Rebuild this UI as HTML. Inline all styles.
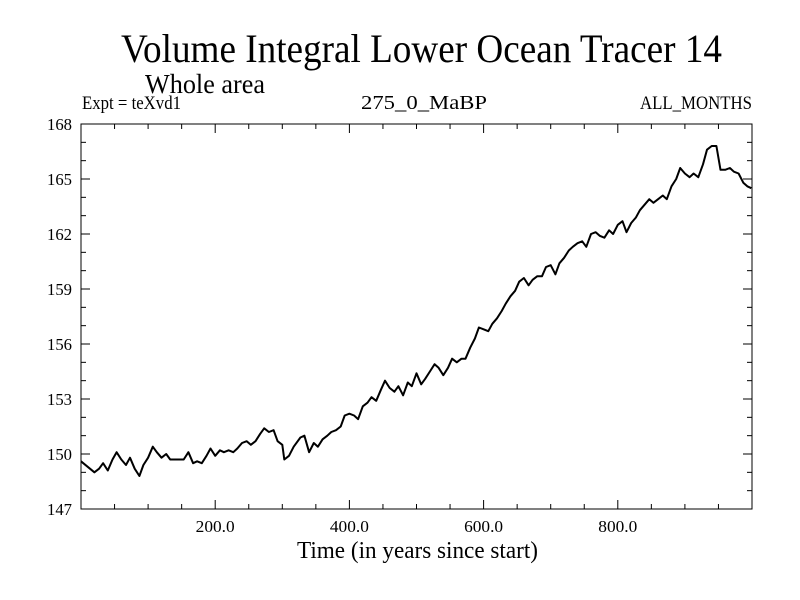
<!DOCTYPE html>
<html><head><meta charset="utf-8"><style>
body{margin:0;background:#fff;}
svg{display:block;font-family:"Liberation Serif",serif;}
</style></head><body>
<svg id="chart" width="800" height="600" xmlns="http://www.w3.org/2000/svg">
<rect width="800" height="600" fill="#fff"/>
<text x="121" y="62" font-size="40" textLength="601" lengthAdjust="spacingAndGlyphs">Volume Integral Lower Ocean Tracer 14</text>
<text x="145" y="93" font-size="27" textLength="120" lengthAdjust="spacingAndGlyphs">Whole area</text>
<text x="82" y="109" font-size="19" textLength="99" lengthAdjust="spacingAndGlyphs">Expt = teXvd1</text>
<text x="361" y="109" font-size="20" textLength="126" lengthAdjust="spacingAndGlyphs">275_0_MaBP</text>
<text x="640" y="109" font-size="19" textLength="112" lengthAdjust="spacingAndGlyphs">ALL_MONTHS</text>
<text x="297" y="558" font-size="24" textLength="241" lengthAdjust="spacingAndGlyphs">Time (in years since start)</text>
<g id="axes"></g>
<path id="line" fill="none" stroke="#000" stroke-width="2" stroke-linejoin="round"/>
<rect x="81" y="124" width="671" height="385" fill="none" stroke="#000" stroke-width="1"/>
</svg>
<script>
const years=[0,10,20,27,33,40,47,53,60,67,73,80,87,93,100,107,113,120,127,133,140,147,153,160,167,173,180,187,193,200,207,213,220,227,233,240,247,253,260,267,273,280,287,293,300,303,310,317,327,333,340,347,353,360,367,373,380,387,393,400,407,413,420,427,433,440,447,453,460,467,473,480,487,493,500,507,513,520,527,533,540,547,553,560,567,573,580,587,593,600,607,613,620,627,633,640,647,653,660,667,673,680,687,693,700,707,713,720,727,733,740,747,753,760,767,773,780,787,793,800,807,813,820,827,833,840,847,853,860,867,873,880,887,893,900,907,913,920,927,933,940,947,953,960,967,973,980,987,993,999];
const values=[149.6,149.3,149.0,149.2,149.5,149.1,149.7,150.1,149.7,149.4,149.8,149.2,148.8,149.4,149.8,150.4,150.1,149.8,150.0,149.7,149.7,149.7,149.7,150.1,149.5,149.6,149.5,149.9,150.3,149.9,150.2,150.1,150.2,150.1,150.3,150.6,150.7,150.5,150.7,151.1,151.4,151.2,151.3,150.7,150.5,149.7,149.9,150.4,150.9,151.0,150.1,150.6,150.4,150.8,151.0,151.2,151.3,151.5,152.1,152.2,152.1,151.9,152.6,152.8,153.1,152.9,153.5,154.0,153.6,153.4,153.7,153.2,153.9,153.7,154.4,153.8,154.1,154.5,154.9,154.7,154.3,154.7,155.2,155.0,155.2,155.2,155.8,156.3,156.9,156.8,156.7,157.1,157.4,157.8,158.2,158.6,158.9,159.4,159.6,159.2,159.5,159.7,159.7,160.2,160.3,159.8,160.4,160.7,161.1,161.3,161.5,161.6,161.3,162.0,162.1,161.9,161.8,162.2,162.0,162.5,162.7,162.1,162.6,162.9,163.3,163.6,163.9,163.7,163.9,164.1,163.9,164.6,165.0,165.6,165.3,165.1,165.3,165.1,165.8,166.6,166.8,166.8,165.5,165.5,165.6,165.4,165.3,164.8,164.6,164.5];
const yTicks=[147,150,153,156,159,162,165,168];
const xTicks=[200,400,600,800];
const xTickLabels=["200.0","400.0","600.0","800.0"];
const X0=81,X1=752,Y0=509,Y1=124,XMIN=0,XMAX=1000,YMIN=147,YMAX=168;
const sx=v=>X0+(v-XMIN)/(XMAX-XMIN)*(X1-X0);
const sy=v=>Y0-(v-YMIN)/(YMAX-YMIN)*(Y0-Y1);
const NS="http://www.w3.org/2000/svg";
const g=document.getElementById('axes');
function ln(x1,y1,x2,y2,name){const l=document.createElementNS(NS,'line');l.setAttribute('x1',x1);l.setAttribute('y1',y1);l.setAttribute('x2',x2);l.setAttribute('y2',y2);l.setAttribute('stroke','#000');l.setAttribute('stroke-width','1');


g.appendChild(l);}
function tx(x,y,s,anchor,len,name){const t=document.createElementNS(NS,'text');t.setAttribute('x',x);t.setAttribute('y',y);t.setAttribute('font-size','17');t.setAttribute('text-anchor',anchor);t.setAttribute('textLength',len);t.setAttribute('lengthAdjust','spacingAndGlyphs');t.textContent=s;


g.appendChild(t);}
for(let v=YMIN;v<=YMAX;v+=1){const y=sy(v);const major=yTicks.includes(v);const L=major?9:5;ln(X0,y,X0+L,y,'y-tick');ln(X1,y,X1-L,y,'y-tick');}
yTicks.forEach(v=>tx(72,sy(v)+6,String(v),'end',25,'y-tick-label'));
for(let v=50;v<XMAX;v+=50){const x=sx(v);const major=v%200===0;const L=major?9:5;ln(x,Y0,x,Y0-L,'x-tick');ln(x,Y1,x,Y1+L,'x-tick');}
xTicks.forEach((v,i)=>tx(sx(v),532,xTickLabels[i],'middle',39,'x-tick-label'));
document.getElementById('line').setAttribute('d',years.map((v,i)=>(i?'L':'M')+sx(v).toFixed(1)+','+sy(values[i]).toFixed(1)).join(''));
</script>
</body></html>
